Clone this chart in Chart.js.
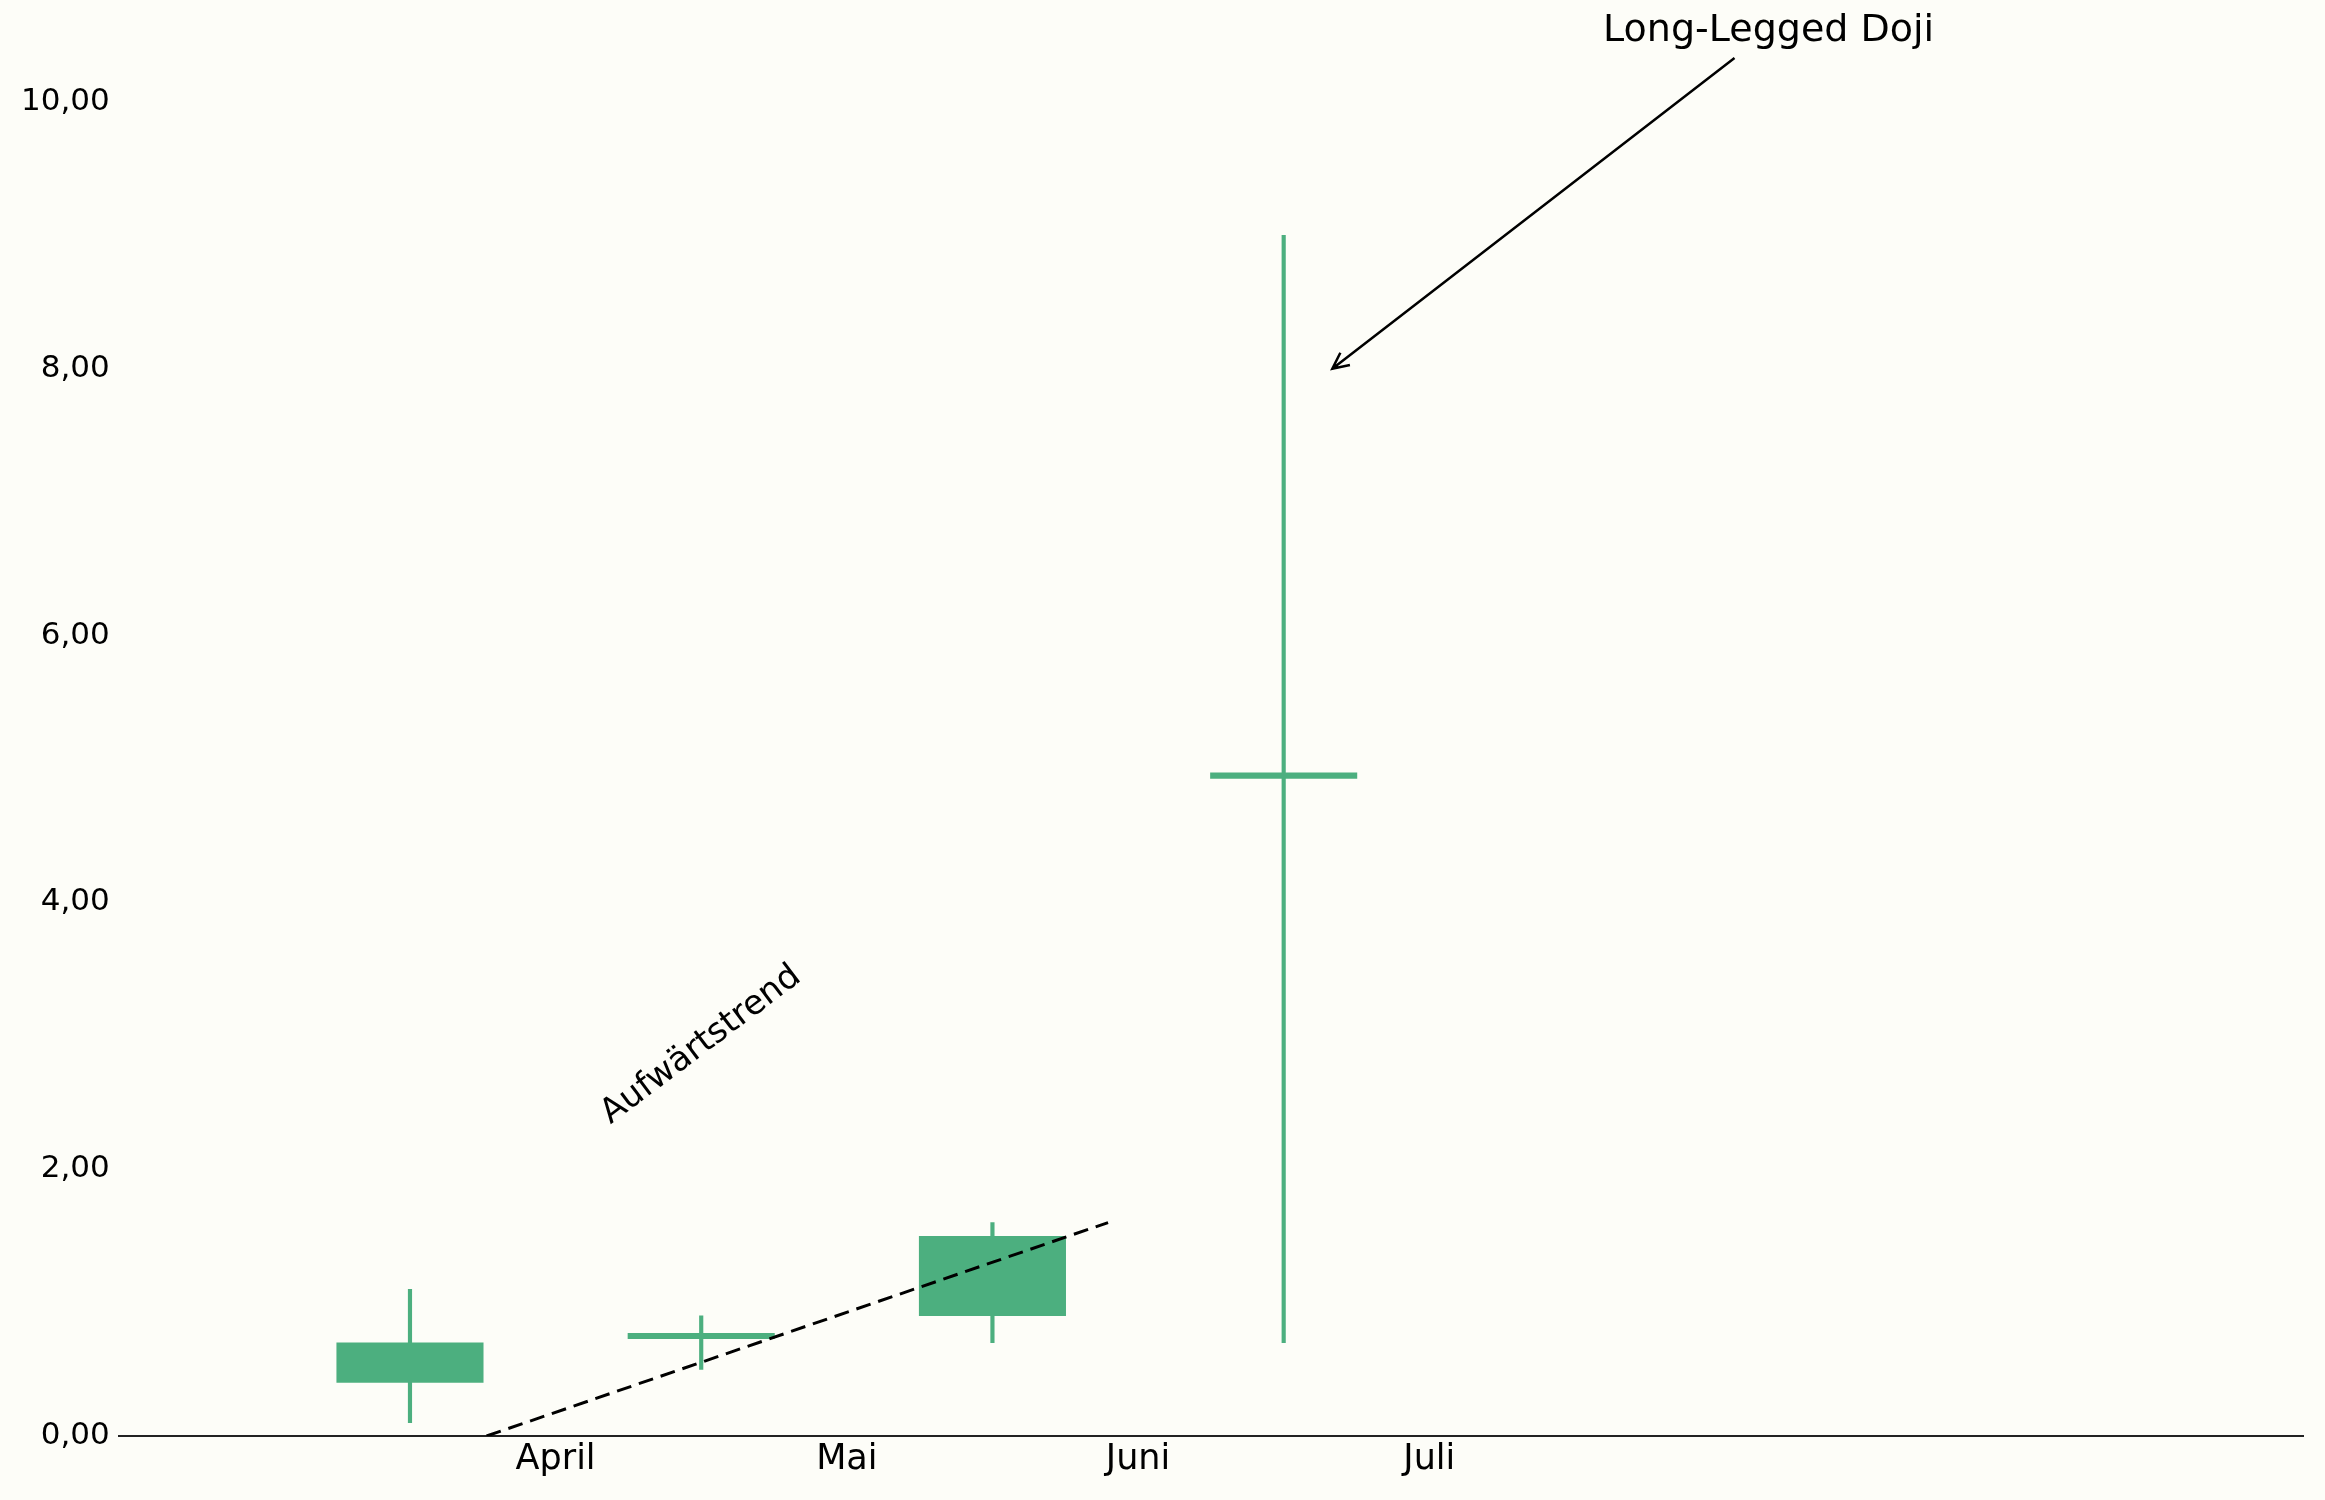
<!DOCTYPE html>
<html>
<head>
<meta charset="utf-8">
<script src="https://cdn.jsdelivr.net/npm/chart.js@4.4.1/dist/chart.umd.min.js"></script>
<style>
  html, body { margin: 0; padding: 0; background: #fdfdf8; }
  #chart { display: block; }
</style>
</head>
<body>
<canvas id="chart" width="2325" height="1500"></canvas>
<script>
// candle data, one entry per month (x = candle index)
const candleX = [0, 1, 2, 3];
const opens  = [0.40, 0.728, 0.90, 4.927];
const closes = [0.70, 0.772, 1.50, 4.973];
const highs  = [1.10, 0.90, 1.60, 9.00];
const lows   = [0.10, 0.50, 0.70, 0.70];

// month ticks sit between the candles
const monthTicks = [0.5, 1.5, 2.5, 3.5];
const monthLabels = ['April', 'Mai', 'Juni', 'Juli'];
const yTicks = [0, 2, 4, 6, 8, 10];

// dashed trend line (start / end)
const trendX = [0.263, 2.397];
const trendY = [0, 1.6];

// annotations
const trendText = 'Aufwärtstrend';
const trendTextPos = [1.0, 2.93];
const dojiText = 'Long-Legged Doji';
const dojiTextPos = [4.665, 10.53];
const dojiArrowFrom = [4.548, 10.33];
const dojiArrowTo = [3.167, 8.0];

const green = '#4caf7f';
const bg = '#fdfdf8';
const font = "'DejaVu Sans', sans-serif";

// paint the figure background
const bgPlugin = {
    id: 'bg',
    beforeDraw(chart) {
        const ctx = chart.ctx;
        ctx.save();
        ctx.fillStyle = bg;
        ctx.fillRect(0, 0, chart.width, chart.height);
        ctx.restore();
    }
};

// text and arrow annotations, placed through the scales
const notePlugin = {
    id: 'notes',
    afterDraw(chart) {
        const ctx = chart.ctx;
        const x = chart.scales.x, y = chart.scales.y;
        ctx.save();
        ctx.fillStyle = '#000';
        ctx.textAlign = 'center';
        ctx.textBaseline = 'middle';

        // rotated trend label
        ctx.save();
        ctx.translate(x.getPixelForValue(trendTextPos[0]), y.getPixelForValue(trendTextPos[1]));
        ctx.rotate(-37 * Math.PI / 180);
        ctx.font = '34px ' + font;
        ctx.fillText(trendText, 0, 0);
        ctx.restore();

        // doji label
        ctx.font = '38px ' + font;
        ctx.fillText(dojiText, x.getPixelForValue(dojiTextPos[0]), y.getPixelForValue(dojiTextPos[1]));

        // arrow with open head
        const x0 = x.getPixelForValue(dojiArrowFrom[0]), y0 = y.getPixelForValue(dojiArrowFrom[1]);
        const x1 = x.getPixelForValue(dojiArrowTo[0]), y1 = y.getPixelForValue(dojiArrowTo[1]);
        ctx.strokeStyle = '#000';
        ctx.lineWidth = 2.5;
        ctx.beginPath();
        ctx.moveTo(x0, y0);
        ctx.lineTo(x1, y1);
        const ang = Math.atan2(y1 - y0, x1 - x0);
        const head = 18, spread = 0.45;
        ctx.moveTo(x1 - head * Math.cos(ang - spread), y1 - head * Math.sin(ang - spread));
        ctx.lineTo(x1, y1);
        ctx.lineTo(x1 - head * Math.cos(ang + spread), y1 - head * Math.sin(ang + spread));
        ctx.stroke();
        ctx.restore();
    }
};

const bodies = candleX.map((v, i) => ({ x: v, y: [opens[i], closes[i]] }));
const wicks = candleX.map((v, i) => ({ x: v, y: [lows[i], highs[i]] }));
const trend = trendX.map((v, i) => ({ x: v, y: trendY[i] }));

const ctx = document.getElementById('chart').getContext('2d');
const chart = new Chart(ctx, {
    type: 'bar',
    data: {
        datasets: [{
            label: 'Docht',
            data: wicks,
            backgroundColor: green,
            barThickness: 3.5,
            grouped: false,
            order: 2
        }, {
            label: 'Körper',
            data: bodies,
            backgroundColor: green,
            categoryPercentage: 1,
            barPercentage: 0.505,
            grouped: false,
            order: 1
        }, {
            type: 'line',
            label: 'Trend',
            data: trend,
            borderColor: '#000',
            borderWidth: 3,
            borderDash: [15, 8],
            pointRadius: 0,
            fill: false,
            order: 0
        }]
    },
    options: {
        responsive: false,
        devicePixelRatio: 1,
        animation: false,
        layout: {
            padding: { top: 102, left: 12, right: 22, bottom: 16 }
        },
        plugins: {
            legend: { display: false },
            tooltip: { enabled: false }
        },
        scales: {
            x: {
                type: 'linear',
                min: -1,
                max: 6.5,
                offset: false,
                grid: { display: false, drawTicks: false },
                border: { display: true, color: '#222', width: 2 },
                afterBuildTicks: (scale) => {
                    scale.ticks = monthTicks.map(v => ({ value: v }));
                },
                ticks: {
                    padding: 3,
                    color: '#000',
                    font: { family: font, size: 35 },
                    callback: (v) => monthLabels[monthTicks.indexOf(v)]
                }
            },
            y: {
                type: 'linear',
                min: 0,
                max: 10,
                grid: { display: false, drawTicks: false },
                border: { display: false },
                afterBuildTicks: (scale) => {
                    scale.ticks = yTicks.map(v => ({ value: v }));
                },
                ticks: {
                    padding: 9,
                    color: '#000',
                    font: { family: font, size: 31 },
                    callback: (v) => v.toFixed(2).replace('.', ',')
                }
            }
        }
    },
    plugins: [bgPlugin, notePlugin]
});
</script>
</body>
</html>
